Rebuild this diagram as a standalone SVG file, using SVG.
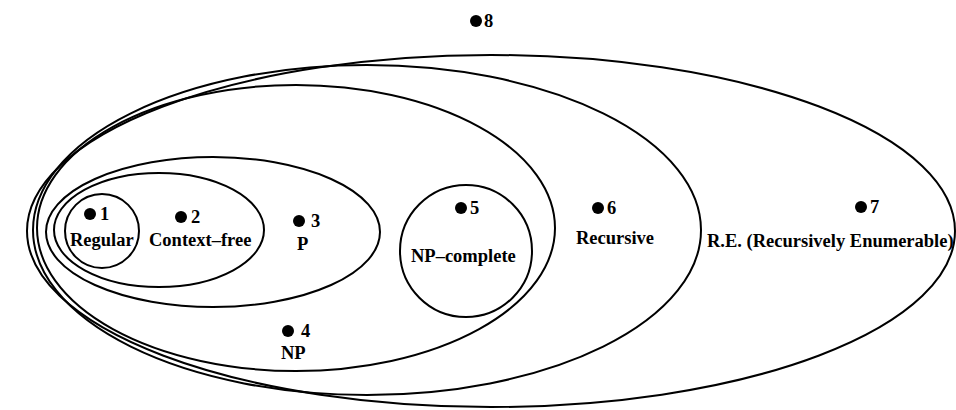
<svg xmlns="http://www.w3.org/2000/svg" width="956" height="410" viewBox="0 0 956 410">
<style>
.set{fill:none;stroke:#000;stroke-width:2}
.lbl{font-family:"Liberation Serif","Times New Roman",serif;font-weight:bold;font-size:18.5px;fill:#000}
.dot{fill:#000}
</style>
<rect width="956" height="410" fill="#fff"/>
<g id="re"><ellipse class="set" cx="491" cy="231" rx="464" ry="176"/><text class="lbl" x="707" y="247">R.E. (Recursively Enumerable)</text></g>
<g id="recursive"><ellipse class="set" cx="367" cy="230" rx="334" ry="165"/><text class="lbl" x="576" y="244">Recursive</text></g>
<g id="np"><ellipse class="set" cx="296" cy="228" rx="259" ry="143"/><text class="lbl" x="281" y="359">NP</text></g>
<g id="p"><ellipse class="set" cx="213" cy="232" rx="167" ry="75"/><text class="lbl" x="297" y="250">P</text></g>
<g id="cf"><ellipse class="set" cx="159" cy="230" rx="105" ry="57"/><text class="lbl" x="149" y="246">Context–free</text></g>
<g id="regular"><circle class="set" cx="102" cy="231" r="37"/><text class="lbl" x="70" y="246">Regular</text></g>
<g id="npc"><circle class="set" cx="466" cy="251" r="66"/><text class="lbl" x="411" y="262">NP–complete</text></g>
<g id="pt1"><circle class="dot" cx="90" cy="214" r="6"/><text class="lbl" x="100" y="220">1</text></g>
<g id="pt2"><circle class="dot" cx="181" cy="217" r="6"/><text class="lbl" x="191" y="223">2</text></g>
<g id="pt3"><circle class="dot" cx="299" cy="221" r="6"/><text class="lbl" x="311" y="227">3</text></g>
<g id="pt4"><circle class="dot" cx="288" cy="331" r="6"/><text class="lbl" x="301" y="337">4</text></g>
<g id="pt5"><circle class="dot" cx="461" cy="208" r="6"/><text class="lbl" x="470" y="214">5</text></g>
<g id="pt6"><circle class="dot" cx="598" cy="208" r="6"/><text class="lbl" x="607" y="214">6</text></g>
<g id="pt7"><circle class="dot" cx="861" cy="207" r="6"/><text class="lbl" x="870" y="213">7</text></g>
<g id="pt8"><circle class="dot" cx="476" cy="21" r="6"/><text class="lbl" x="484" y="27">8</text></g>
</svg>
